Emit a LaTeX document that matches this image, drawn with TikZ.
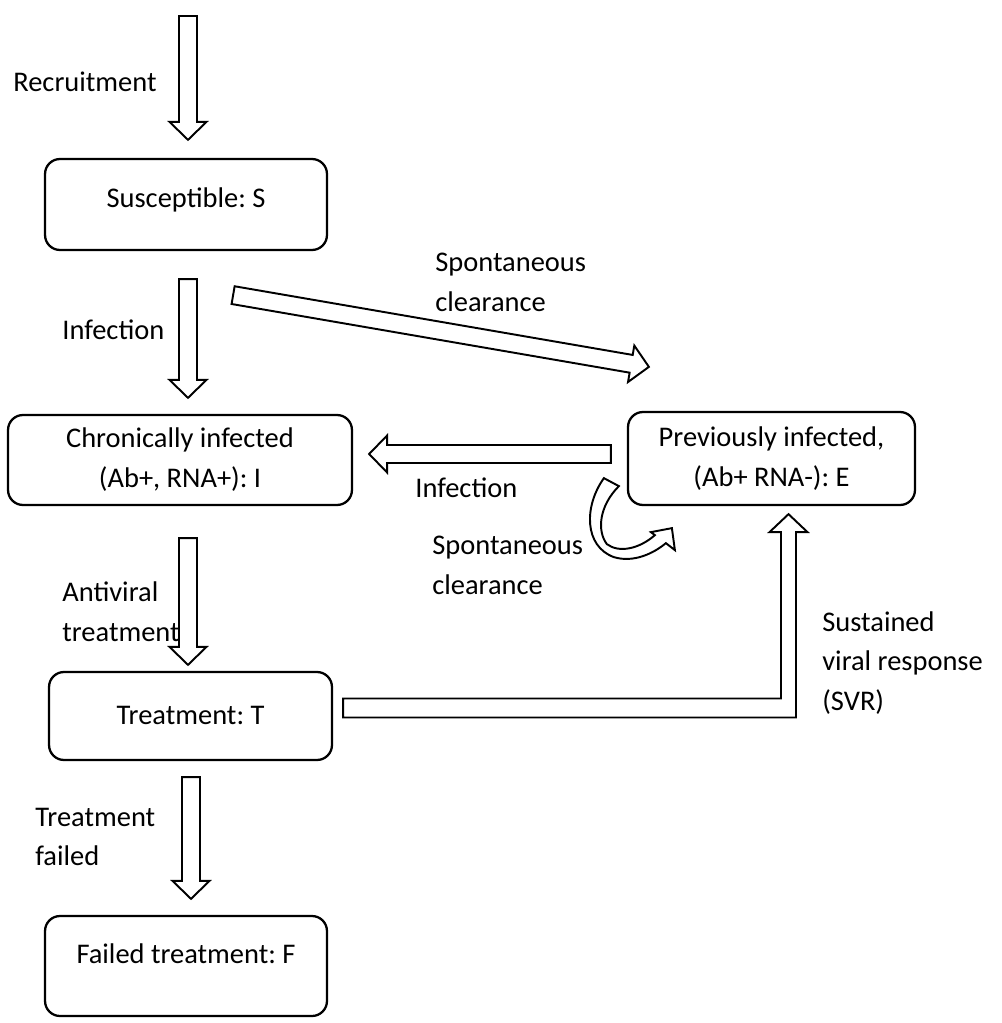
\documentclass[tikz,border=0pt]{standalone}
\usepackage{fontspec}
\setmainfont{Carlito}
\frenchspacing
\usetikzlibrary{calc}

\tikzset{
  every node/.style={font=\fontsize{16.2}{22.7}\selectfont},
  box/.style={draw, rounded corners=0.3cm, line width=1.3pt, align=center, inner sep=0pt},
  blockline/.style={draw, line width=1.1pt, line join=miter, fill=white},
  lbl/.style={anchor=west, align=left, inner sep=0pt}
}

% hollow block arrow from #1 to #2
\newcommand{\blockarrow}[2]{%
  \coordinate (hb) at ($(#2)!0.36cm!(#1)$);
  \draw[blockline] ($(#1)!0.18cm!90:(#2)$) -- ($(hb)!0.18cm!90:(#2)$) -- ($(hb)!0.37cm!90:(#2)$)
    -- (#2) -- ($(hb)!0.37cm!-90:(#2)$) -- ($(hb)!0.18cm!-90:(#2)$) -- ($(#1)!0.18cm!-90:(#2)$) -- cycle;}

\begin{document}
\begin{tikzpicture}[x=0.02cm, y=-0.02cm]
\useasboundingbox (0,0) rectangle (1001,1023);

% compartments
\node[box, minimum width=5.64cm, text height=0.98cm, text depth=0.84cm] (S) at (186,204.5) {Susceptible: S};
\node[box, minimum width=6.88cm, minimum height=1.8cm] (I) at (180,460) {Chronically infected\\(Ab+, RNA+): I};
\node[box, minimum width=5.74cm, minimum height=1.86cm] (E) at (771.5,458.5) {Previously infected,\\(Ab+ RNA-): E};
\node[box, minimum width=5.66cm, text height=1.04cm, text depth=0.72cm] (T) at (190.5,716) {Treatment: T};
\node[box, minimum width=5.64cm, text height=0.94cm, text depth=1.06cm] (F) at (186,966) {Failed treatment: F};

% arrow ends
\coordinate (rec) at (188,16);
\coordinate (S in) at ($(S.north)+(2,-18)$);
\coordinate (S out) at ($(S.south)+(2,28)$);
\coordinate (I in) at ($(I.north)+(8,-16)$);
\coordinate (I out) at ($(I.south)+(8,32)$);
\coordinate (T in) at ($(T.north)+(-2.5,-6)$);
\coordinate (T out) at ($(T.south)+(0.5,16)$);
\coordinate (F in) at ($(F.north)+(5,-16)$);
\coordinate (S diag) at ($(S.south east)+(-95,44)$);
\coordinate (E diag) at ($(E.north west)+(22,-44)$);
\coordinate (E out) at ($(E.west)+(-16,-4.5)$);
\coordinate (I side) at ($(I.east)+(16,-6)$);
\coordinate (svr1) at ($(T.east)+(10,-8)$);
\coordinate (svr2) at ($(E.south)+(17,8)$);

\blockarrow{rec}{S in}
\blockarrow{S out}{I in}
\blockarrow{I out}{T in}
\blockarrow{T out}{F in}
\blockarrow{S diag}{E diag}
\blockarrow{E out}{I side}

% SVR elbow arrow
\draw[blockline] ($(svr1)+(0,-9.5)$) -- ($(svr2 |- svr1)+(-7.5,-9.5)$) -- ($(svr2)+(-7.5,18)$) -- ($(svr2)+(-19,18)$)
  -- (svr2) -- ($(svr2)+(19,18)$) -- ($(svr2)+(7.5,18)$) -- ($(svr2 |- svr1)+(7.5,9.5)$) -- ($(svr1)+(0,9.5)$) -- cycle;

% curved arrow under E
\begin{scope}[shift={(E.south west)}]
\draw[blockline] (-23,-28) .. controls (-43,0) and (-43,40) .. (-13,51)
  .. controls (7,57) and (27,47) .. (39,37) -- (48,44) -- (45,22) -- (24,26) -- (28,29)
  .. controls (12,43) and (-8,47) .. (-20,38) .. controls (-30,25) and (-28,0) .. (-8,-20) -- cycle;
\end{scope}

% labels
\node[lbl] (recl) at (13,82) {Recruitment};
\node[lbl] (inf1l) at (62,330) {Infection};
\node[lbl] (spon1l) at (435,282) {Spontaneous\\clearance};
\node[lbl] (inf2l) at (415,488) {Infection};
\node[lbl] (spon2l) at (432,565) {Spontaneous\\clearance};
\node[lbl] (antil) at (62,612) {Antiviral\\treatment};
\node[lbl] (svrl) at (822,663) {Sustained\\viral response\\(SVR)};
\node[lbl] (faill) at (35,837) {Treatment\\failed};
\end{tikzpicture}
\end{document}
